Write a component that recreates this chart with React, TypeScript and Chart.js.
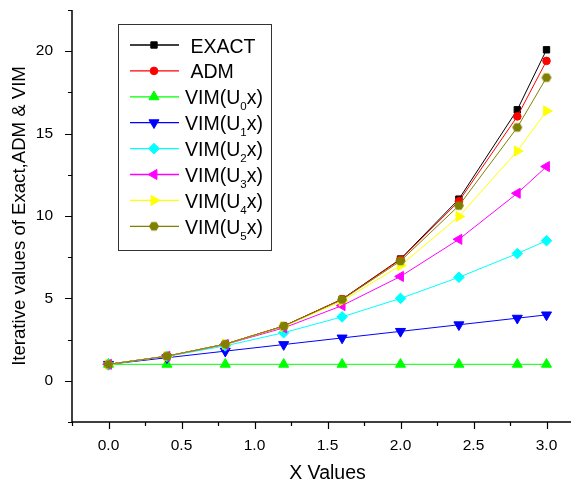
import React, { useEffect, useRef } from 'react';
import { Chart, registerables } from 'chart.js';
import { drawPoint } from 'chart.js/helpers';

Chart.register(...registerables);

// ---- data ----
const xValues = [0, 0.4, 0.8, 1.2, 1.6, 2.0, 2.4, 2.8, 3.0];
const exactValues = [1, 1.4918, 2.2255, 3.3201, 4.953, 7.3891, 11.0232, 16.4446, 20.0855];
const admValues = [1, 1.4918, 2.2255, 3.3193, 4.9464, 7.3556, 10.8954, 16.0433, 19.4125];
const vimU0Values = [1, 1, 1, 1, 1, 1, 1, 1, 1];
const vimU1Values = [1, 1.4, 1.8, 2.2, 2.6, 3.0, 3.4, 3.8, 4.0];
const vimU2Values = [1, 1.48, 2.12, 2.92, 3.88, 5.0, 6.28, 7.72, 8.5];
const vimU3Values = [1, 1.4907, 2.2053, 3.208, 4.5627, 6.3333, 8.584, 11.3787, 13.0];
const vimU4Values = [1, 1.4917, 2.2224, 3.2944, 4.8357, 7.0, 9.9664, 13.9398, 16.375];
const vimU5Values = [1, 1.4918, 2.2251, 3.3151, 4.9231, 7.2667, 10.63, 15.374, 18.4];

const seriesLabels = [' EXACT', ' ADM', 'VIM(U_0x)', 'VIM(U_1x)', 'VIM(U_2x)', 'VIM(U_3x)', 'VIM(U_4x)', 'VIM(U_5x)'];
const seriesValues = [exactValues, admValues, vimU0Values, vimU1Values, vimU2Values, vimU3Values, vimU4Values, vimU5Values];
const seriesColors = ['#000000', '#ff0000', '#00ff00', '#0000ff', '#00ffff', '#ff00ff', '#ffff00', '#808000'];

const xTickValues = [0, 0.5, 1.0, 1.5, 2.0, 2.5, 3.0];
const yTickValues = [0, 5, 10, 15, 20];
const xMin = -0.25, xMax = 3.25, xMinorStep = 0.25;
const yMin = -2.5, yMax = 22.5, yMinorStep = 2.5;

const xTitle = 'X Values';
const yTitle = 'Iterative values of Exact,ADM & VIM';

const FONT = '"Liberation Sans", Arial, sans-serif';

function makeHexagon(color: string, r: number) {
  const c = document.createElement('canvas');
  const s = Math.ceil(r * 2 + 2);
  c.width = s; c.height = s;
  const ctx = c.getContext('2d')!;
  ctx.fillStyle = color;
  ctx.beginPath();
  for (let i = 0; i < 6; i++) {
    const a = (Math.PI / 3) * i;
    const px = s / 2 + r * Math.cos(a);
    const py = s / 2 + r * Math.sin(a);
    if (i === 0) ctx.moveTo(px, py); else ctx.lineTo(px, py);
  }
  ctx.closePath();
  ctx.fill();
  return c;
}

export default function App() {
  const ref = useRef<HTMLCanvasElement | null>(null);

  useEffect(() => {
    const canvas = ref.current!;
    const hex = makeHexagon('#808000', 5);
    const markerStyles: any[] = [
      { pointStyle: 'rect', radius: 4.5, rotation: 0 },
      { pointStyle: 'circle', radius: 3.8, rotation: 0 },
      { pointStyle: 'triangle', radius: 5.8, rotation: 0 },
      { pointStyle: 'triangle', radius: 5.8, rotation: 180 },
      { pointStyle: 'rectRot', radius: 5.3, rotation: 0 },
      { pointStyle: 'triangle', radius: 5.8, rotation: -90 },
      { pointStyle: 'triangle', radius: 5.8, rotation: 90 },
      { pointStyle: hex, radius: 5, rotation: 0 },
    ];

    const datasets = seriesValues.map((vals, i) => ({
      label: seriesLabels[i],
      data: vals.map((y, j) => ({ x: xValues[j], y })),
      borderColor: seriesColors[i],
      backgroundColor: seriesColors[i],
      borderWidth: 1,
      pointStyle: markerStyles[i].pointStyle,
      pointRotation: markerStyles[i].rotation,
      pointRadius: markerStyles[i].radius,
      pointBorderWidth: i === 7 ? 0 : 1,
      pointBorderColor: seriesColors[i],
      pointBackgroundColor: seriesColors[i],
      tension: 0,
      fill: false,
      order: 7 - i,
    }));

    const axesPlugin = {
      id: 'axesTicks',
      beforeDatasetsDraw(chart: any) {
        const { ctx, chartArea } = chart;
        const xs = chart.scales.x, ys = chart.scales.y;
        ctx.save();
        ctx.strokeStyle = '#000';
        ctx.lineWidth = 1.5;
        ctx.beginPath();
        ctx.moveTo(chartArea.left, chartArea.top);
        ctx.lineTo(chartArea.left, chartArea.bottom);
        ctx.lineTo(chartArea.right, chartArea.bottom);
        ctx.stroke();
        ctx.lineWidth = 1.2;
        ctx.beginPath();
        for (let v = xMin; v <= xMax + 1e-9; v += xMinorStep) {
          const isMajor = xTickValues.some((t) => Math.abs(t - v) < 1e-6);
          const px = Math.round(xs.getPixelForValue(v)) + 0.5;
          ctx.moveTo(px, chartArea.bottom);
          ctx.lineTo(px, chartArea.bottom + (isMajor ? 7 : 4));
        }
        for (let v = yMin; v <= yMax + 1e-9; v += yMinorStep) {
          const isMajor = yTickValues.some((t) => Math.abs(t - v) < 1e-6);
          const py = Math.round(ys.getPixelForValue(v)) + 0.5;
          ctx.moveTo(chartArea.left, py);
          ctx.lineTo(chartArea.left - (isMajor ? 7 : 4), py);
        }
        ctx.stroke();
        ctx.restore();
      },
    };

    const legendPlugin = {
      id: 'customLegend',
      afterDraw(chart: any) {
        const { ctx } = chart;
        const boxL = 110, boxT = 16, boxR = 263, boxB = 242;
        ctx.save();
        ctx.fillStyle = '#fff';
        ctx.fillRect(boxL, boxT, boxR - boxL, boxB - boxT);
        ctx.strokeStyle = '#333';
        ctx.lineWidth = 1;
        ctx.strokeRect(boxL + 0.5, boxT + 0.5, boxR - boxL, boxB - boxT);
        for (let i = 0; i < seriesLabels.length; i++) {
          const y = 37 + i * 25.9;
          ctx.save();
          ctx.strokeStyle = seriesColors[i];
          ctx.lineWidth = 1.3;
          ctx.beginPath();
          ctx.moveTo(122, y);
          ctx.lineTo(171, y);
          ctx.stroke();
          ctx.fillStyle = seriesColors[i];
          ctx.lineWidth = 1;
          drawPoint(ctx, {
            pointStyle: markerStyles[i].pointStyle,
            rotation: markerStyles[i].rotation,
            radius: markerStyles[i].radius,
            borderWidth: i === 7 ? 0 : 1,
          } as any, 146, y);
          ctx.restore();
          // text
          ctx.fillStyle = '#000';
          ctx.textBaseline = 'alphabetic';
          ctx.textAlign = 'left';
          const baseline = y + 7.5;
          const parts = seriesLabels[i].split('_');
          let tx = 177;
          ctx.font = `19.5px ${FONT}`;
          ctx.fillText(parts[0], tx, baseline);
          tx += ctx.measureText(parts[0]).width;
          if (parts.length > 1) {
            const sub = parts[1].charAt(0);
            const rest = parts[1].slice(1);
            ctx.font = `11.5px ${FONT}`;
            ctx.fillText(sub, tx, baseline + 6);
            tx += ctx.measureText(sub).width;
            ctx.font = `19.5px ${FONT}`;
            ctx.fillText(rest, tx, baseline);
          }
        }
        ctx.restore();
      },
    };

    const chart = new Chart(canvas, {
      type: 'line',
      data: { datasets: datasets as any },
      options: {
        responsive: false,
        animation: false,
        devicePixelRatio: 1,
        layout: { autoPadding: false, padding: { top: 2, right: 0, left: 0, bottom: 0 } },
        plugins: {
          legend: { display: false },
          tooltip: { enabled: false },
        },
        scales: {
          x: {
            type: 'linear',
            min: xMin,
            max: xMax,
            afterBuildTicks: (s: any) => { s.ticks = xTickValues.map((v) => ({ value: v })); },
            afterFit: (s: any) => { s.height = 61; s.paddingLeft = 0; s.paddingRight = 0; s.paddingTop = 0; s.paddingBottom = 0; },
            grid: { display: false, drawTicks: false },
            border: { display: false },
            ticks: {
              padding: 14,
              color: '#000',
              font: { family: FONT, size: 15.5 },
              autoSkip: false,
              maxRotation: 0,
              callback: (v: any) => Number(v).toFixed(1),
            },
            title: {
              display: true,
              text: xTitle,
              color: '#000',
              font: { family: FONT, size: 19.5, lineHeight: 1 },
              padding: { top: 0, bottom: 0 },
            },
          },
          y: {
            type: 'linear',
            min: yMin,
            max: yMax,
            afterBuildTicks: (s: any) => { s.ticks = yTickValues.map((v) => ({ value: v })); },
            afterFit: (s: any) => { s.width = 64; s.paddingLeft = 0; s.paddingRight = 0; s.paddingTop = 0; s.paddingBottom = 0; },
            grid: { display: false, drawTicks: false },
            border: { display: false },
            ticks: {
              padding: 19,
              color: '#000',
              font: { family: FONT, size: 15.5 },
              autoSkip: false,
              callback: (v: any) => String(v),
            },
            title: {
              display: true,
              text: yTitle,
              color: '#000',
              font: { family: FONT, size: 18.6, lineHeight: 1 },
              padding: { top: 3, bottom: 0 },
            },
          },
        },
      },
      plugins: [axesPlugin, legendPlugin],
    });
    return () => chart.destroy();
  }, []);

  return (
    <div style={{ width: 571, height: 475, overflow: 'hidden' }}>
      <canvas ref={ref} width={575} height={475} style={{ display: 'block', width: 575, height: 475 }} />
    </div>
  );
}
